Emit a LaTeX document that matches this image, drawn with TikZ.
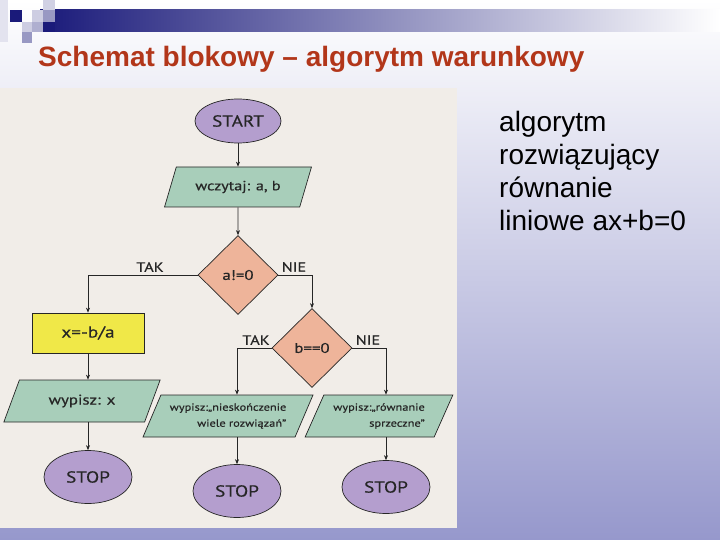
\documentclass[tikz,border=0pt]{standalone}
\usepackage{fontspec}
\setmainfont{Liberation Sans}
\newfontfamily\chartfont[FakeStretch=1.2, FakeBold=0.5]{PT Sans}
\usetikzlibrary{shapes.geometric, arrows.meta}
\definecolor{navy}{RGB}{26,26,122}
\definecolor{titlered}{RGB}{178,54,26}
\definecolor{slidemid}{RGB}{226,226,240}
\definecolor{slidebot}{RGB}{150,152,204}
\definecolor{paper}{RGB}{241,237,232}
\definecolor{termfill}{RGB}{180,158,206}
\definecolor{iofill}{RGB}{168,206,186}
\definecolor{condfill}{RGB}{238,180,154}
\definecolor{procfill}{RGB}{240,232,72}
\definecolor{ink}{RGB}{38,38,38}

\begin{document}
\begin{tikzpicture}[
  x=1pt, y=-1pt,
  chart/.style={draw=ink, line width=0.7pt, text=ink, inner sep=1pt},
  term/.style={chart, ellipse, fill=termfill, minimum width=88pt, minimum height=53pt,
               font=\chartfont\fontsize{16}{18}\selectfont},
  io/.style={chart, trapezium, trapezium left angle=60, trapezium right angle=120,
             trapezium stretches=true, fill=iofill, minimum height=42pt,
             font=\chartfont\fontsize{13.5}{15}\selectfont},
  cond/.style={chart, diamond, fill=condfill, minimum width=80pt, minimum height=79pt,
               inner sep=0pt, font=\chartfont\fontsize{14}{15}\selectfont},
  proc/.style={chart, rectangle, fill=procfill, minimum width=112pt, minimum height=40pt,
               font=\chartfont\fontsize{16}{18}\selectfont},
  lbl/.style={text=ink, inner sep=0pt, font=\chartfont\fontsize{13.5}{15}\selectfont},
  flow/.style={-{Stealth[length=5pt, width=4pt]}, draw=ink, line width=0.6pt},
]
\useasboundingbox (0,0) rectangle (720,540);
% slide background
\shade[top color=white, middle color=slidemid, bottom color=slidebot] (0,0) rectangle (720,540);
\shade[left color=navy, right color=white] (40,10) rectangle (720,32);
\fill[navy!12] (0,0) rectangle (8,42);
\fill[navy!20] (43,0) rectangle (55,10);
\fill[navy] (10,10) rectangle (22,22);
\fill[navy!22] (32,10) rectangle (43,22);
\fill[navy!45] (43,10) rectangle (55,22);
\fill[navy!22] (22,22) rectangle (32,32);
\fill[navy!35] (32,22) rectangle (43,32);
\fill[navy] (43,22) rectangle (55,32);
\fill[navy!45] (22,32) rectangle (32,43);
% title and side text
\node[anchor=base west, inner sep=0pt, text=titlered, font=\bfseries\fontsize{28}{32}\selectfont]
  (title) at (38,67) {Schemat blokowy – algorytm warunkowy};
\node[anchor=north west, inner sep=0pt, align=left, font=\fontsize{28}{33}\selectfont]
  (desc) at (499,111) {algorytm\\rozwiązujący\\równanie\\liniowe ax+b=0};
% the photographed page
\fill[paper] (0,88) rectangle (457,528);
% flowchart
\node[term, minimum width=86pt, minimum height=44pt] (start) at (238,121) {START};
\node[io, minimum width=147pt, minimum height=40pt] (read) at (238,187) {wczytaj: a, b};
\node[cond] (ane) at (238,275) {a!=0};
\node[proc] (calc) at (88,333) {x=-b/a};
\node[io, minimum width=157pt, font=\chartfont\fontsize{14}{15}\selectfont] (outx) at (82,401) {wypisz: x};
\node[term] (stop1) at (88,477) {STOP};
\node[cond] (bz) at (312,348) {b==0};
\node[io, minimum width=170pt, align=right, font=\chartfont\fontsize{10.3}{16}\selectfont]
  (inf) at (228,416) {wypisz:„nieskończenie\\wiele rozwiązań”};
\node[io, minimum width=148pt, align=right, font=\chartfont\fontsize{10.3}{16}\selectfont]
  (contra) at (379,416) {wypisz:„równanie\\sprzeczne”};
\node[term] (stop2) at (237,491) {STOP};
\node[term] (stop3) at (386,487) {STOP};
% branch labels
\node[lbl] (tak1) at (150,267) {TAK};
\node[lbl] (nie1) at (294,267) {NIE};
\node[lbl] (tak2) at (256,340) {TAK};
\node[lbl] (nie2) at (368,340) {NIE};
% connectors
\draw[flow] (start) -- (read);
\draw[flow] (read) -- (ane);
\draw[flow] (ane.west) -| (calc.north);
\draw[flow] (ane.east) -| (bz.north);
\draw[flow] (calc) -- (calc |- outx.north);
\draw[flow] (stop1 |- outx.south) -- (stop1);
\draw[flow] (bz.west) -| (stop2 |- inf.north);
\draw[flow] (stop2 |- inf.south) -- (stop2);
\draw[flow] (bz.east) -| (stop3 |- contra.north);
\draw[flow] (stop3 |- contra.south) -- (stop3);
\end{tikzpicture}
\end{document}
